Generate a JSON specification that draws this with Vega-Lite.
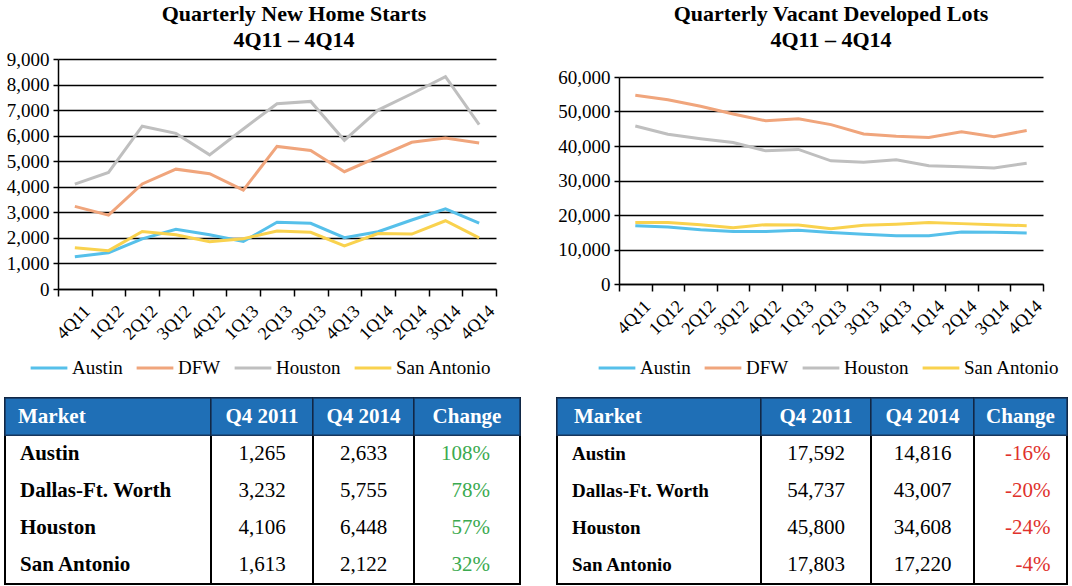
{
  "$schema": "https://vega.github.io/schema/vega-lite/v6.json",
  "background": "white",
  "padding": {"top": 2, "left": 3, "right": 0, "bottom": 0},
  "config": {
    "font": "Liberation Serif",
    "view": {"stroke": null},
    "locale": {"number": {"decimal": ".", "thousands": ",", "grouping": [3], "currency": ["$", ""], "minus": "-"}},
    "axis": {"labelFont": "Liberation Serif", "labelColor": "black", "domainColor": "black", "tickColor": "black", "titleFont": "Liberation Serif"},
    "text": {"font": "Liberation Serif"}
  },
  "datasets": {
    "starts": [
      {"quarter": "4Q11", "Austin": 1265, "DFW": 3232, "Houston": 4106, "San Antonio": 1613},
      {"quarter": "1Q12", "Austin": 1420, "DFW": 2890, "Houston": 4560, "San Antonio": 1500},
      {"quarter": "2Q12", "Austin": 1960, "DFW": 4110, "Houston": 6370, "San Antonio": 2250},
      {"quarter": "3Q12", "Austin": 2340, "DFW": 4690, "Houston": 6090, "San Antonio": 2120},
      {"quarter": "4Q12", "Austin": 2120, "DFW": 4510, "Houston": 5250, "San Antonio": 1850},
      {"quarter": "1Q13", "Austin": 1860, "DFW": 3870, "Houston": 6260, "San Antonio": 1970},
      {"quarter": "2Q13", "Austin": 2610, "DFW": 5580, "Houston": 7250, "San Antonio": 2270},
      {"quarter": "3Q13", "Austin": 2570, "DFW": 5420, "Houston": 7340, "San Antonio": 2220},
      {"quarter": "4Q13", "Austin": 2010, "DFW": 4590, "Houston": 5820, "San Antonio": 1690},
      {"quarter": "1Q14", "Austin": 2240, "DFW": 5170, "Houston": 7000, "San Antonio": 2170},
      {"quarter": "2Q14", "Austin": 2700, "DFW": 5740, "Houston": 7640, "San Antonio": 2150},
      {"quarter": "3Q14", "Austin": 3140, "DFW": 5910, "Houston": 8310, "San Antonio": 2670},
      {"quarter": "4Q14", "Austin": 2580, "DFW": 5710, "Houston": 6430, "San Antonio": 2000}
    ],
    "lots": [
      {"quarter": "4Q11", "Austin": 16900, "DFW": 54700, "Houston": 45800, "San Antonio": 17800},
      {"quarter": "1Q12", "Austin": 16500, "DFW": 53400, "Houston": 43400, "San Antonio": 17800},
      {"quarter": "2Q12", "Austin": 15700, "DFW": 51500, "Houston": 42100, "San Antonio": 17200},
      {"quarter": "3Q12", "Austin": 15200, "DFW": 49300, "Houston": 41000, "San Antonio": 16300},
      {"quarter": "4Q12", "Austin": 15200, "DFW": 47300, "Houston": 38600, "San Antonio": 17200},
      {"quarter": "1Q13", "Austin": 15600, "DFW": 47900, "Houston": 39000, "San Antonio": 17100},
      {"quarter": "2Q13", "Austin": 14900, "DFW": 46200, "Houston": 35700, "San Antonio": 16000},
      {"quarter": "3Q13", "Austin": 14400, "DFW": 43500, "Houston": 35300, "San Antonio": 17000},
      {"quarter": "4Q13", "Austin": 14000, "DFW": 42800, "Houston": 36000, "San Antonio": 17300},
      {"quarter": "1Q14", "Austin": 14000, "DFW": 42500, "Houston": 34300, "San Antonio": 17800},
      {"quarter": "2Q14", "Austin": 15100, "DFW": 44100, "Houston": 34000, "San Antonio": 17500},
      {"quarter": "3Q14", "Austin": 15000, "DFW": 42700, "Houston": 33600, "San Antonio": 17200},
      {"quarter": "4Q14", "Austin": 14800, "DFW": 44500, "Houston": 35000, "San Antonio": 16900}
    ],
    "startsTable": [
      {"market": "Austin", "q2011": 1265, "q2014": 2633, "change": 1.08},
      {"market": "Dallas-Ft. Worth", "q2011": 3232, "q2014": 5755, "change": 0.78},
      {"market": "Houston", "q2011": 4106, "q2014": 6448, "change": 0.57},
      {"market": "San Antonio", "q2011": 1613, "q2014": 2122, "change": 0.32}
    ],
    "lotsTable": [
      {"market": "Austin", "q2011": 17592, "q2014": 14816, "change": -0.16},
      {"market": "Dallas-Ft. Worth", "q2011": 54737, "q2014": 43007, "change": -0.20},
      {"market": "Houston", "q2011": 45800, "q2014": 34608, "change": -0.24},
      {"market": "San Antonio", "q2011": 17803, "q2014": 17220, "change": -0.04}
    ]
  },
  "align": "none",
  "vconcat": [
    {
      "align": "none",
      "hconcat": [
        {
          "align": "none",
          "spacing": 0,
          "vconcat": [
            {"width": 1, "height": 1, "data": {"values": []}, "mark": "point"},
            {
              "align": "none",
              "spacing": 0,
              "hconcat": [
                {"width": 1, "height": 1, "data": {"values": []}, "mark": "point"},
                {
                  "width": 438, "height": 230,
                  "title": {"text": ["Quarterly New Home Starts", "4Q11 – 4Q14"], "fontSize": 22, "fontWeight": "bold", "font": "Liberation Serif", "lineHeight": 26, "anchor": "middle", "frame": "group", "offset": -2, "dx": 17, "color": "black"},
                  "data": {"name": "starts"},
                  "transform": [{"fold": ["Austin", "DFW", "Houston", "San Antonio"], "as": ["market", "value"]}],
                  "mark": {"type": "line", "strokeWidth": 3},
                  "encoding": {
                    "x": {"field": "quarter", "type": "ordinal", "sort": null, "bandPosition": 0.5, "scale": {"type": "band", "paddingInner": 0, "paddingOuter": 0},
                      "axis": {"title": null, "labelAngle": -45, "labelFontSize": 18, "tickBand": "extent", "tickSize": 7, "tickWidth": 1.5, "domainWidth": 1.5, "labelPadding": 6, "labelOffset": 6, "grid": false}},
                    "y": {"field": "value", "type": "quantitative", "scale": {"domain": [0, 9000], "nice": false},
                      "axis": {"title": null, "values": [0, 1000, 2000, 3000, 4000, 5000, 6000, 7000, 8000, 9000], "format": ",.0f", "labelFontSize": 19, "grid": true, "gridColor": "black", "gridWidth": 1.5, "gridOpacity": 1, "tickSize": 5, "tickWidth": 1.5, "domainWidth": 1.5, "labelPadding": 4}},
                    "color": {"field": "market", "type": "nominal",
                      "scale": {"domain": ["Austin", "DFW", "Houston", "San Antonio"], "range": ["#56C0EA", "#F0A57C", "#BFBFBF", "#F9D24E"]},
                      "legend": {"title": null, "orient": "none", "direction": "horizontal", "legendX": 24, "legendY": 346, "symbolType": "stroke", "symbolSize": 1350, "symbolStrokeWidth": 3, "labelFontSize": 19, "labelFont": "Liberation Serif", "labelColor": "black", "labelOffset": 3, "columnPadding": 7}}
                  }
                }
              ]
            }
          ]
        },
        {
          "align": "none",
          "spacing": 0,
          "vconcat": [
            {"width": 1, "height": 1, "data": {"values": []}, "mark": "point"},
            {
              "width": 424, "height": 207,
              "title": {"text": ["Quarterly Vacant Developed Lots", "4Q11 – 4Q14"], "fontSize": 22, "fontWeight": "bold", "font": "Liberation Serif", "lineHeight": 26, "anchor": "middle", "frame": "group", "offset": 16, "dx": 0, "color": "black"},
              "data": {"name": "lots"},
              "transform": [{"fold": ["Austin", "DFW", "Houston", "San Antonio"], "as": ["market", "value"]}],
              "mark": {"type": "line", "strokeWidth": 3},
              "encoding": {
                "x": {"field": "quarter", "type": "ordinal", "sort": null, "bandPosition": 0.5, "scale": {"type": "band", "paddingInner": 0, "paddingOuter": 0},
                  "axis": {"title": null, "labelAngle": -45, "labelFontSize": 18, "tickBand": "extent", "tickSize": 7, "tickWidth": 1.5, "domainWidth": 1.5, "labelPadding": 6, "labelOffset": 6, "grid": false}},
                "y": {"field": "value", "type": "quantitative", "scale": {"domain": [0, 60000], "nice": false},
                  "axis": {"title": null, "values": [0, 10000, 20000, 30000, 40000, 50000, 60000], "format": ",.0f", "labelFontSize": 19, "grid": true, "gridColor": "black", "gridWidth": 1.5, "gridOpacity": 1, "tickSize": 5, "tickWidth": 1.5, "domainWidth": 1.5, "labelPadding": 4}},
                "color": {"field": "market", "type": "nominal",
                  "scale": {"domain": ["Austin", "DFW", "Houston", "San Antonio"], "range": ["#56C0EA", "#F0A57C", "#BFBFBF", "#F9D24E"]},
                  "legend": {"title": null, "orient": "none", "direction": "horizontal", "legendX": -22, "legendY": 346, "symbolType": "stroke", "symbolSize": 1350, "symbolStrokeWidth": 3, "labelFontSize": 19, "labelFont": "Liberation Serif", "labelColor": "black", "labelOffset": 3, "columnPadding": 7}}
              }
            }
          ]
        }
      ],
      "spacing": 59,
      "resolve": {"scale": {"color": "independent"}, "legend": {"color": "independent"}}
    },
    {
      "align": "none",
      "hconcat": [
        {
          "bounds": "flush",
          "hconcat": [
            {
              "width": 206, "height": 186,
              "view": {"stroke": "black", "strokeWidth": 2},
              "data": {"name": "startsTable"},
              "layer": [
                {"data": {"values": [{}]}, "mark": {"type": "rect", "fill": "#1F6FB6", "stroke": "#17365d", "strokeWidth": 1.5}, "encoding": {"y": {"datum": "header", "type": "nominal", "axis": null, "scale": {"type": "band", "domain": ["header", "Austin", "Dallas-Ft. Worth", "Houston", "San Antonio"], "paddingInner": 0, "paddingOuter": 0}}}},
                {"data": {"values": [{}]}, "mark": {"type": "text", "align": "left", "dx": -90, "fontWeight": "bold", "fontSize": 21, "color": "white"}, "encoding": {"y": {"datum": "header", "type": "nominal", "axis": null}, "text": {"value": "Market"}}},
                {"mark": {"type": "text", "align": "left", "dx": -88, "fontWeight": "bold", "fontSize": 21, "color": "black"}, "encoding": {"y": {"field": "market", "type": "nominal", "axis": {"title": null, "labels": false, "ticks": false, "domain": false, "grid": true, "tickBand": "extent", "gridColor": "#9b9b9b", "gridWidth": 2.5, "minExtent": 0}}, "text": {"field": "market"}}}
              ]
            },
            {
              "width": 102, "height": 186,
              "view": {"stroke": "black", "strokeWidth": 2},
              "data": {"name": "startsTable"},
              "layer": [
                {"data": {"values": [{}]}, "mark": {"type": "rect", "fill": "#1F6FB6", "stroke": "#17365d", "strokeWidth": 1.5}, "encoding": {"y": {"datum": "header", "type": "nominal", "axis": null, "scale": {"type": "band", "domain": ["header", "Austin", "Dallas-Ft. Worth", "Houston", "San Antonio"], "paddingInner": 0, "paddingOuter": 0}}}},
                {"data": {"values": [{}]}, "mark": {"type": "text", "align": "center", "fontWeight": "bold", "fontSize": 21, "color": "white"}, "encoding": {"y": {"datum": "header", "type": "nominal", "axis": null}, "text": {"value": "Q4 2011"}}},
                {"mark": {"type": "text", "align": "center", "fontSize": 21, "color": "black"}, "encoding": {"y": {"field": "market", "type": "nominal", "axis": {"title": null, "labels": false, "ticks": false, "domain": false, "grid": true, "tickBand": "extent", "gridColor": "#9b9b9b", "gridWidth": 2.5, "minExtent": 0}}, "text": {"field": "q2011", "format": ","}}}
              ]
            },
            {
              "width": 101, "height": 186,
              "view": {"stroke": "black", "strokeWidth": 2},
              "data": {"name": "startsTable"},
              "layer": [
                {"data": {"values": [{}]}, "mark": {"type": "rect", "fill": "#1F6FB6", "stroke": "#17365d", "strokeWidth": 1.5}, "encoding": {"y": {"datum": "header", "type": "nominal", "axis": null, "scale": {"type": "band", "domain": ["header", "Austin", "Dallas-Ft. Worth", "Houston", "San Antonio"], "paddingInner": 0, "paddingOuter": 0}}}},
                {"data": {"values": [{}]}, "mark": {"type": "text", "align": "center", "fontWeight": "bold", "fontSize": 21, "color": "white"}, "encoding": {"y": {"datum": "header", "type": "nominal", "axis": null}, "text": {"value": "Q4 2014"}}},
                {"mark": {"type": "text", "align": "center", "fontSize": 21, "color": "black"}, "encoding": {"y": {"field": "market", "type": "nominal", "axis": {"title": null, "labels": false, "ticks": false, "domain": false, "grid": true, "tickBand": "extent", "gridColor": "#9b9b9b", "gridWidth": 2.5, "minExtent": 0}}, "text": {"field": "q2014", "format": ","}}}
              ]
            },
            {
              "width": 106, "height": 186,
              "view": {"stroke": "black", "strokeWidth": 2},
              "data": {"name": "startsTable"},
              "layer": [
                {"data": {"values": [{}]}, "mark": {"type": "rect", "fill": "#1F6FB6", "stroke": "#17365d", "strokeWidth": 1.5}, "encoding": {"y": {"datum": "header", "type": "nominal", "axis": null, "scale": {"type": "band", "domain": ["header", "Austin", "Dallas-Ft. Worth", "Houston", "San Antonio"], "paddingInner": 0, "paddingOuter": 0}}}},
                {"data": {"values": [{}]}, "mark": {"type": "text", "align": "center", "fontWeight": "bold", "fontSize": 21, "color": "white"}, "encoding": {"y": {"datum": "header", "type": "nominal", "axis": null}, "text": {"value": "Change"}}},
                {"mark": {"type": "text", "align": "right", "dx": 23, "fontSize": 21, "color": "#3BAA4F"}, "encoding": {"y": {"field": "market", "type": "nominal", "axis": {"title": null, "labels": false, "ticks": false, "domain": false, "grid": true, "tickBand": "extent", "gridColor": "#9b9b9b", "gridWidth": 2.5, "minExtent": 0}}, "text": {"field": "change", "format": ".0%"}}}
              ]
            }
          ],
          "spacing": 0
        },
        {
          "bounds": "flush",
          "hconcat": [
            {
              "width": 204, "height": 186,
              "view": {"stroke": "black", "strokeWidth": 2},
              "data": {"name": "lotsTable"},
              "layer": [
                {"data": {"values": [{}]}, "mark": {"type": "rect", "fill": "#1F6FB6", "stroke": "#17365d", "strokeWidth": 1.5}, "encoding": {"y": {"datum": "header", "type": "nominal", "axis": null, "scale": {"type": "band", "domain": ["header", "Austin", "Dallas-Ft. Worth", "Houston", "San Antonio"], "paddingInner": 0, "paddingOuter": 0}}}},
                {"data": {"values": [{}]}, "mark": {"type": "text", "align": "left", "dx": -85, "fontWeight": "bold", "fontSize": 21, "color": "white"}, "encoding": {"y": {"datum": "header", "type": "nominal", "axis": null}, "text": {"value": "Market"}}},
                {"mark": {"type": "text", "align": "left", "dx": -87, "fontWeight": "bold", "fontSize": 19, "color": "black"}, "encoding": {"y": {"field": "market", "type": "nominal", "axis": {"title": null, "labels": false, "ticks": false, "domain": false, "grid": true, "tickBand": "extent", "gridColor": "#9b9b9b", "gridWidth": 2.5, "minExtent": 0}}, "text": {"field": "market"}}}
              ]
            },
            {
              "width": 110, "height": 186,
              "view": {"stroke": "black", "strokeWidth": 2},
              "data": {"name": "lotsTable"},
              "layer": [
                {"data": {"values": [{}]}, "mark": {"type": "rect", "fill": "#1F6FB6", "stroke": "#17365d", "strokeWidth": 1.5}, "encoding": {"y": {"datum": "header", "type": "nominal", "axis": null, "scale": {"type": "band", "domain": ["header", "Austin", "Dallas-Ft. Worth", "Houston", "San Antonio"], "paddingInner": 0, "paddingOuter": 0}}}},
                {"data": {"values": [{}]}, "mark": {"type": "text", "align": "center", "fontWeight": "bold", "fontSize": 21, "color": "white"}, "encoding": {"y": {"datum": "header", "type": "nominal", "axis": null}, "text": {"value": "Q4 2011"}}},
                {"mark": {"type": "text", "align": "center", "fontSize": 21, "color": "black"}, "encoding": {"y": {"field": "market", "type": "nominal", "axis": {"title": null, "labels": false, "ticks": false, "domain": false, "grid": true, "tickBand": "extent", "gridColor": "#9b9b9b", "gridWidth": 2.5, "minExtent": 0}}, "text": {"field": "q2011", "format": ","}}}
              ]
            },
            {
              "width": 103, "height": 186,
              "view": {"stroke": "black", "strokeWidth": 2},
              "data": {"name": "lotsTable"},
              "layer": [
                {"data": {"values": [{}]}, "mark": {"type": "rect", "fill": "#1F6FB6", "stroke": "#17365d", "strokeWidth": 1.5}, "encoding": {"y": {"datum": "header", "type": "nominal", "axis": null, "scale": {"type": "band", "domain": ["header", "Austin", "Dallas-Ft. Worth", "Houston", "San Antonio"], "paddingInner": 0, "paddingOuter": 0}}}},
                {"data": {"values": [{}]}, "mark": {"type": "text", "align": "center", "fontWeight": "bold", "fontSize": 21, "color": "white"}, "encoding": {"y": {"datum": "header", "type": "nominal", "axis": null}, "text": {"value": "Q4 2014"}}},
                {"mark": {"type": "text", "align": "center", "fontSize": 21, "color": "black"}, "encoding": {"y": {"field": "market", "type": "nominal", "axis": {"title": null, "labels": false, "ticks": false, "domain": false, "grid": true, "tickBand": "extent", "gridColor": "#9b9b9b", "gridWidth": 2.5, "minExtent": 0}}, "text": {"field": "q2014", "format": ","}}}
              ]
            },
            {
              "width": 93, "height": 186,
              "view": {"stroke": "black", "strokeWidth": 2},
              "data": {"name": "lotsTable"},
              "layer": [
                {"data": {"values": [{}]}, "mark": {"type": "rect", "fill": "#1F6FB6", "stroke": "#17365d", "strokeWidth": 1.5}, "encoding": {"y": {"datum": "header", "type": "nominal", "axis": null, "scale": {"type": "band", "domain": ["header", "Austin", "Dallas-Ft. Worth", "Houston", "San Antonio"], "paddingInner": 0, "paddingOuter": 0}}}},
                {"data": {"values": [{}]}, "mark": {"type": "text", "align": "center", "fontWeight": "bold", "fontSize": 21, "color": "white"}, "encoding": {"y": {"datum": "header", "type": "nominal", "axis": null}, "text": {"value": "Change"}}},
                {"mark": {"type": "text", "align": "right", "dx": 30, "fontSize": 21, "color": "#E0312C"}, "encoding": {"y": {"field": "market", "type": "nominal", "axis": {"title": null, "labels": false, "ticks": false, "domain": false, "grid": true, "tickBand": "extent", "gridColor": "#9b9b9b", "gridWidth": 2.5, "minExtent": 0}}, "text": {"field": "change", "format": ".0%"}}}
              ]
            }
          ],
          "spacing": 0
        }
      ],
      "spacing": 33
    }
  ],
  "spacing": 18
}
